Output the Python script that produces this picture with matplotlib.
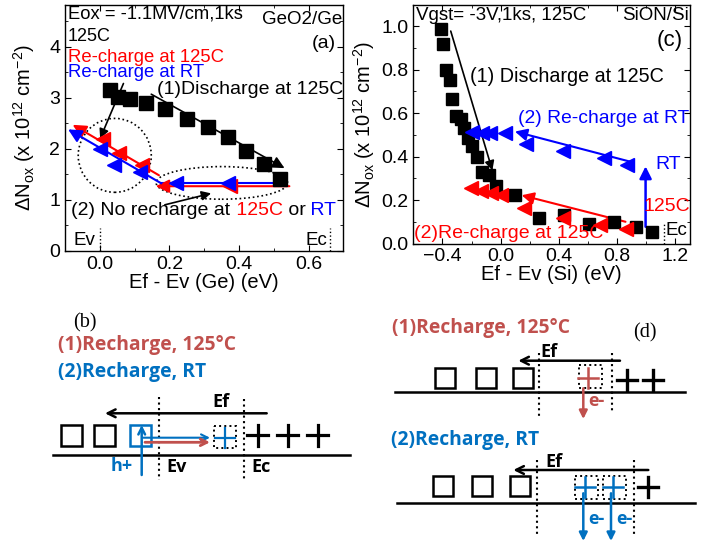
import numpy as np
import matplotlib.pyplot as plt
from matplotlib.patches import Ellipse, Rectangle
from matplotlib.ticker import MultipleLocator

plt.rcParams['font.family'] = ['Liberation Sans', 'DejaVu Sans']
plt.rcParams['mathtext.default'] = 'regular'

# ---- panel (a): GeO2/Ge ----
ge_dis_x = [0.029, 0.053, 0.086, 0.134, 0.188, 0.25, 0.31, 0.368, 0.42, 0.472, 0.517]
ge_dis_y = [3.15, 3.02, 2.97, 2.89, 2.77, 2.58, 2.42, 2.24, 1.96, 1.70, 1.40]
ge_red_x = [0.01, 0.055, 0.12, 0.373]
ge_red_y = [2.20, 1.92, 1.69, 1.26]
ge_blue_x = [0.0, 0.04, 0.115, 0.22, 0.368]
ge_blue_y = [1.99, 1.69, 1.55, 1.32, 1.32]

# ---- panel (c): SiON/Si ----
si_dis_x = [-0.41, -0.398, -0.377, -0.35, -0.331, -0.308, -0.274, -0.255, -0.225, -0.194, -0.165,
            -0.128, -0.08, -0.03, 0.098, 0.263, 0.436, 0.606, 0.777, 0.926, 1.04]
si_dis_y = [0.985, 0.918, 0.80, 0.75, 0.666, 0.586, 0.573, 0.53, 0.483, 0.447, 0.397,
            0.329, 0.313, 0.264, 0.222, 0.119, 0.13, 0.088, 0.097, 0.077, 0.052]
si_blue_x = [-0.194, -0.13, -0.075, 0.028, 0.177, 0.43, 0.709, 0.866]
si_blue_y = [0.513, 0.507, 0.507, 0.51, 0.456, 0.427, 0.395, 0.362]
si_red_x = [-0.206, -0.137, -0.069, 0.0, 0.16, 0.43, 0.68, 0.86]
si_red_y = [0.253, 0.24, 0.23, 0.224, 0.165, 0.118, 0.083, 0.068]

RED = '#ff0000'
BLUE = '#0000ff'
D_RED = '#c0504d'
D_BLUE = '#0070c0'
FS = 13.5

fig = plt.figure(figsize=(7.1, 5.44), dpi=100)

# diagram canvas in pixel units (drawn first, plots sit on top)
dg = fig.add_axes([0, 0, 1, 1])
dg.set_xlim(0, 710)
dg.set_ylim(544, 0)
dg.axis('off')


def arrow(ax, start, tip, color='k', lw=1.2, style='-|>', ms=15):
    ax.annotate('', xy=tip, xytext=start,
                arrowprops=dict(arrowstyle=style, color=color, lw=lw,
                                mutation_scale=ms, shrinkA=0, shrinkB=0))


def style_axes(ax):
    ax.tick_params(which='both', direction='in', top=True, right=True, labelsize=14)
    ax.tick_params(which='major', length=4)
    ax.tick_params(which='minor', length=2.5)
    for s in ax.spines.values():
        s.set_linewidth(1.0)


ylab = u'\u0394N$_{ox}$ (x 10$^{12}$ cm$^{-2}$)'

# ================= (a) =================
ax = fig.add_axes([65 / 710, 1 - 250.7 / 544, (343.3 - 65) / 710, (250.7 - 5) / 544])
ax.set_xlim(-0.1, 0.7)
ax.set_ylim(0, 4.82)
ax.xaxis.set_major_locator(MultipleLocator(0.2))
ax.xaxis.set_minor_locator(MultipleLocator(0.1))
ax.yaxis.set_major_locator(MultipleLocator(1))
ax.yaxis.set_minor_locator(MultipleLocator(0.5))
style_axes(ax)
ax.set_xlabel('Ef - Ev (Ge) (eV)', fontsize=14.5, labelpad=0)
ax.set_ylabel(ylab, fontsize=14.5, labelpad=9)

# fit lines with arrows
arrow(ax, (0.17, 1.48), (-0.078, 2.47), RED, lw=1.5, ms=20)
arrow(ax, (0.545, 1.265), (0.161, 1.265), RED, lw=1.5, ms=20)
ax.plot([0.177, 0.536], [1.32, 1.32], color=BLUE, lw=1.5)
arrow(ax, (0.177, 1.32), (-0.091, 2.38), BLUE, lw=1.5, ms=20)

ax.plot(ge_dis_x, ge_dis_y, 's', color='k', ms=9.5, ls='none', zorder=5)
ax.plot(ge_red_x, ge_red_y, '<', color=RED, ms=10.5, ls='none', zorder=5)
ax.plot(ge_blue_x, ge_blue_y, '<', color=BLUE, ms=10.5, ls='none', zorder=6)

arrow(ax, (0.148, 3.07), (0.531, 1.62), 'k', lw=1.2, ms=18)
arrow(ax, (0.068, 3.28), (0.001, 2.2), 'k', lw=1.2, ms=14)
arrow(ax, (0.187, 0.9), (0.32, 1.125), 'k', lw=1.2, ms=14)

ax.add_patch(Ellipse((0.043, 1.87), 0.21, 1.45, fill=False, ls=':', lw=1.2, color='k'))
ax.add_patch(Ellipse((0.351, 1.33), 0.378, 0.64, fill=False, ls=':', lw=1.2, color='k'))

ax.plot([0, 0], [0, 0.45], 'k:', lw=1)
ax.plot([0.663, 0.663], [0, 0.45], 'k:', lw=1)
ax.text(-0.012, 0.2, 'Ev', fontsize=FS, ha='right', va='center')
ax.text(0.655, 0.2, 'Ec', fontsize=FS, ha='right', va='center')

ax.text(0.01, 0.962, 'Eox = -1.1MV/cm,1ks', transform=ax.transAxes, fontsize=13.2, va='center')
ax.text(0.995, 0.94, 'GeO2/Ge', transform=ax.transAxes, fontsize=FS, ha='right', va='center')
ax.text(0.01, 0.872, '125C', transform=ax.transAxes, fontsize=13, va='center')
ax.text(0.975, 0.845, '(a)', transform=ax.transAxes, fontsize=14, ha='right', va='center')
ax.text(0.01, 0.787, 'Re-charge at 125C', transform=ax.transAxes, fontsize=13.3, color=RED, va='center')
ax.text(0.01, 0.727, 'Re-charge at RT', transform=ax.transAxes, fontsize=13.3, color=BLUE, va='center')
ax.text(0.33, 0.655, '(1)Discharge at 125C', transform=ax.transAxes, fontsize=14, va='center')

t = ax.text(0.023, 0.13, '(2) No recharge at', transform=ax.transAxes, fontsize=14, va='bottom')
for s, c in [(' 125C', RED), (' or', 'k'), (' RT', BLUE)]:
    t = ax.annotate(s, xycoords=t, xy=(1, 0), va='bottom', fontsize=14, color=c)

# ================= (c) =================
ax = fig.add_axes([413.3 / 710, 1 - 243.5 / 544, (690 - 413.3) / 710, (243.5 - 5) / 544])
ax.set_xlim(-0.6, 1.3)
ax.set_ylim(0, 1.097)
ax.xaxis.set_major_locator(MultipleLocator(0.4))
ax.xaxis.set_minor_locator(MultipleLocator(0.2))
ax.yaxis.set_major_locator(MultipleLocator(0.2))
ax.yaxis.set_minor_locator(MultipleLocator(0.1))
style_axes(ax)
ax.set_xlabel('Ef - Ev (Si) (eV)', fontsize=14.5, labelpad=0)
ax.set_ylabel(ylab, fontsize=14.5, labelpad=3)

arrow(ax, (0.915, 0.372), (0.098, 0.515), BLUE, lw=1.5, ms=18)
arrow(ax, (0.857, 0.10), (0.144, 0.222), RED, lw=1.5, ms=18)
arrow(ax, (0.995, 0.077), (0.995, 0.355), BLUE, lw=1.8, ms=18)

ax.plot(si_dis_x, si_dis_y, 's', color='k', ms=8.5, ls='none', zorder=5)
ax.plot(si_red_x, si_red_y, '<', color=RED, ms=10, ls='none', zorder=6)
ax.plot(si_blue_x, si_blue_y, '<', color=BLUE, ms=10, ls='none', zorder=6)

arrow(ax, (-0.343, 0.977), (-0.057, 0.336), 'k', lw=1.2, ms=14)

ax.plot([1.12, 1.12], [0, 0.092], 'k:', lw=1)
ax.text(1.135, 0.062, 'Ec', fontsize=FS, va='center')

ax.text(0.01, 0.955, 'Vgst= -3V,1ks, 125C', transform=ax.transAxes, fontsize=FS, va='center')
ax.text(0.995, 0.955, 'SiON/Si', transform=ax.transAxes, fontsize=FS, ha='right', va='center')
ax.text(0.975, 0.85, '(c)', transform=ax.transAxes, fontsize=16, ha='right', va='center')
ax.text(0.205, 0.70, '(1) Discharge at 125C', transform=ax.transAxes, fontsize=14.2, va='center')
ax.text(0.38, 0.525, '(2) Re-charge at RT', transform=ax.transAxes, fontsize=13.9, color=BLUE, va='center')
ax.text(1.06, 0.364, 'RT', fontsize=14, color=BLUE, va='center')
ax.text(1.3, 0.168, '125C', fontsize=14, color=RED, ha='right', va='center')
ax.text(-0.595, 0.045, '(2)Re-charge at 125C', fontsize=14, color=RED, va='center', clip_on=False, zorder=8)

# ================= diagrams (b) and (d) =================
BOLD = dict(family=['Open Sans', 'DejaVu Sans'], weight='bold')
HS = 13.9   # heading size
LS = 13     # label size


def square(xc, yc, color='k', ls='-', size=21, lw=1.8):
    dg.add_patch(Rectangle((xc - size / 2, yc - size / 2), size, size, fill=False,
                           ec=color, lw=lw, ls=ls))


def plus(xc, yc, color='k', size=21, lw=2.0):
    dg.plot([xc - size / 2, xc + size / 2], [yc, yc], color=color, lw=lw)
    dg.plot([xc, xc], [yc - size / 2, yc + size / 2], color=color, lw=lw)


def vdot(x, y0, y1):
    dg.plot([x, x], [y0, y1], color='k', ls=':', lw=1.5)


# (b)
dg.text(85, 323, '(b)', family=['Liberation Serif'], fontsize=14.5, ha='center', va='center')
dg.text(58, 345, '(1)Recharge, 125\u00b0C', color=D_RED, fontsize=HS, va='center', **BOLD)
dg.text(58, 372, '(2)Recharge, RT', color=D_BLUE, fontsize=HS, va='center', **BOLD)
vdot(159.3, 396.7, 480)
vdot(244.3, 399.3, 480)
dg.text(221, 401.7, 'Ef', fontsize=LS, ha='center', va='center', **BOLD)
arrow(dg, (266.7, 413.3), (105, 413.3), 'k', lw=1.8, style='->', ms=14)
square(71.7, 435.8)
square(104.7, 435.8)
square(140, 435.8, D_BLUE)
square(225.3, 436.5, 'k', ':', size=22, lw=1.4)
plus(225.3, 437.5, D_BLUE, size=20, lw=1.6)
for px in [257.5, 287.5, 317.7]:
    plus(px, 435, lw=2.3)
dg.plot([53.3, 350], [455, 455], color='k', lw=1.8)
arrow(dg, (143.3, 437.7), (210, 437.7), D_BLUE, lw=1.5, style='->', ms=12)
arrow(dg, (145, 442.3), (210, 442.3), D_RED, lw=2.0, style='->', ms=12)
arrow(dg, (141.7, 475), (141.7, 425), D_BLUE, lw=1.8, style='->', ms=12)
dg.text(121.7, 466, 'h+', color=D_BLUE, fontsize=LS, ha='center', va='center', **BOLD)
dg.text(166.7, 467, 'Ev', fontsize=LS, va='center', **BOLD)
dg.text(251.7, 467, 'Ec', fontsize=LS, va='center', **BOLD)

# (d) part 1
dg.text(391.7, 328.3, '(1)Recharge, 125\u00b0C', color=D_RED, fontsize=HS, va='center', **BOLD)
dg.text(645, 333.3, '(d)', family=['Liberation Serif'], fontsize=14.5, ha='center', va='center')
dg.text(540, 351.7, 'Ef', fontsize=LS, va='center', **BOLD)
arrow(dg, (620, 360.7), (518.3, 360.7), 'k', lw=1.8, style='->', ms=14)
vdot(539.3, 353.3, 416)
vdot(611.7, 353.3, 413.3)
for sx in [445, 485.7, 523.3]:
    square(sx, 378.3, size=20)
square(590.7, 376.7, 'k', ':', size=23, lw=1.4)
plus(588, 378.3, D_RED, size=20, lw=1.8)
plus(626.7, 380, size=20, lw=2.4)
plus(653.3, 380, size=20, lw=2.4)
dg.plot([395, 685], [391.7, 391.7], color='k', lw=1.8)
arrow(dg, (583.3, 388.3), (583.3, 419), D_RED, lw=1.8, style='-|>', ms=12)
dg.text(588, 401, 'e-', color=D_RED, fontsize=LS, va='center', **BOLD)

# (d) part 2
dg.text(391, 440, '(2)Recharge, RT', color=D_BLUE, fontsize=HS, va='center', **BOLD)
dg.text(545, 461.7, 'Ef', fontsize=LS, va='center', **BOLD)
arrow(dg, (648.3, 470), (513.3, 470), 'k', lw=1.8, style='->', ms=14)
vdot(536.7, 460, 535)
vdot(634.3, 460, 535)
for sx in [443.3, 481.7, 520]:
    square(sx, 485.8, size=20)
for sx in [586.3, 614.3]:
    square(sx, 487.3, 'k', ':', size=23, lw=1.4)
    plus(sx - 1, 487.3, D_BLUE, size=20, lw=1.8)
plus(648.3, 486.7, size=20, lw=2.4)
dg.plot([396.7, 695], [503.3, 503.3], color='k', lw=1.8)
arrow(dg, (583.3, 493.3), (583.3, 541), D_BLUE, lw=1.8, style='-|>', ms=12)
arrow(dg, (611, 493.3), (611, 541), D_BLUE, lw=1.8, style='-|>', ms=12)
dg.text(588.3, 519, 'e-', color=D_BLUE, fontsize=LS, va='center', **BOLD)
dg.text(616.7, 519, 'e-', color=D_BLUE, fontsize=LS, va='center', **BOLD)

fig.savefig('out.png', dpi=100)
